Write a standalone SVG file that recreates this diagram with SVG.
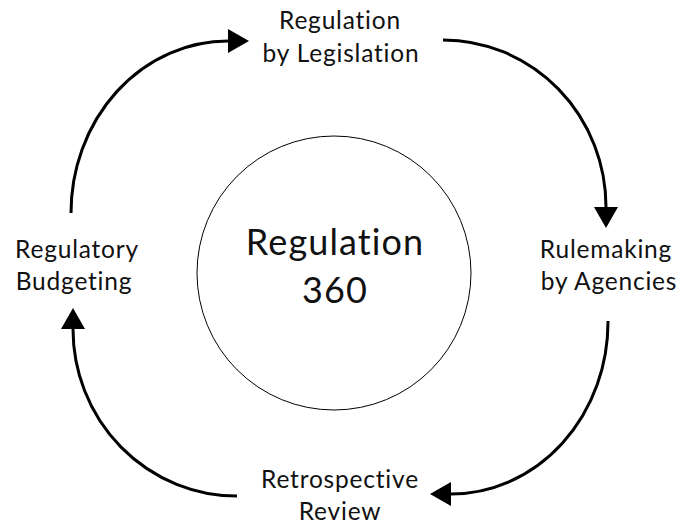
<svg xmlns="http://www.w3.org/2000/svg" width="680" height="527" viewBox="0 0 680 527">
  <style>
    .lbl { font-family: Lato, "Liberation Sans", sans-serif; font-size: 24.5px; font-weight: 400; letter-spacing: 0.8px; font-variant-ligatures: none; fill: #111; text-anchor: middle; }
    .ctr { font-family: Lato, "Liberation Sans", sans-serif; font-size: 36px; font-weight: 400; letter-spacing: 1.1px; font-variant-ligatures: none; fill: #111; text-anchor: middle; }
    .arc { fill: none; stroke: #000; stroke-width: 3; }
  </style>
  <defs>
    <marker id="ah" markerUnits="userSpaceOnUse" markerWidth="22" markerHeight="24" refX="0" refY="12" orient="auto" overflow="visible">
      <path d="M0,0 L21,12 L0,24 Z" fill="#000"/>
    </marker>
  </defs>
  <rect width="680" height="527" fill="#fff"/>
  <g id="center">
    <circle cx="334" cy="273" r="137" fill="none" stroke="#000" stroke-width="1"/>
    <text class="ctr" x="335" y="255">Regulation</text>
    <text class="ctr" x="335" y="303">360</text>
  </g>
  <g id="legislation">
    <text class="lbl" x="340" y="29">Regulation</text>
    <text class="lbl" x="341" y="62">by Legislation</text>
  </g>
  <g id="rulemaking">
    <text class="lbl" x="606" y="258">Rulemaking</text>
    <text class="lbl" x="609" y="290">by Agencies</text>
  </g>
  <g id="retrospective">
    <text class="lbl" x="340" y="488">Retrospective</text>
    <text class="lbl" x="340" y="520">Review</text>
  </g>
  <g id="budgeting">
    <text class="lbl" x="77" y="258">Regulatory</text>
    <text class="lbl" x="74" y="290">Budgeting</text>
  </g>
  <g id="connectors">
    <path class="arc" d="M71,213 A157,172 0 0 1 228,41" marker-end="url(#ah)"/>
    <path class="arc" d="M443,40 A163,167 0 0 1 606,207" marker-end="url(#ah)"/>
    <path class="arc" d="M608,321 A157,172 0 0 1 451,494" marker-end="url(#ah)"/>
    <path class="arc" d="M237,496 A164,167 0 0 1 73,329" marker-end="url(#ah)"/>
  </g>
</svg>
